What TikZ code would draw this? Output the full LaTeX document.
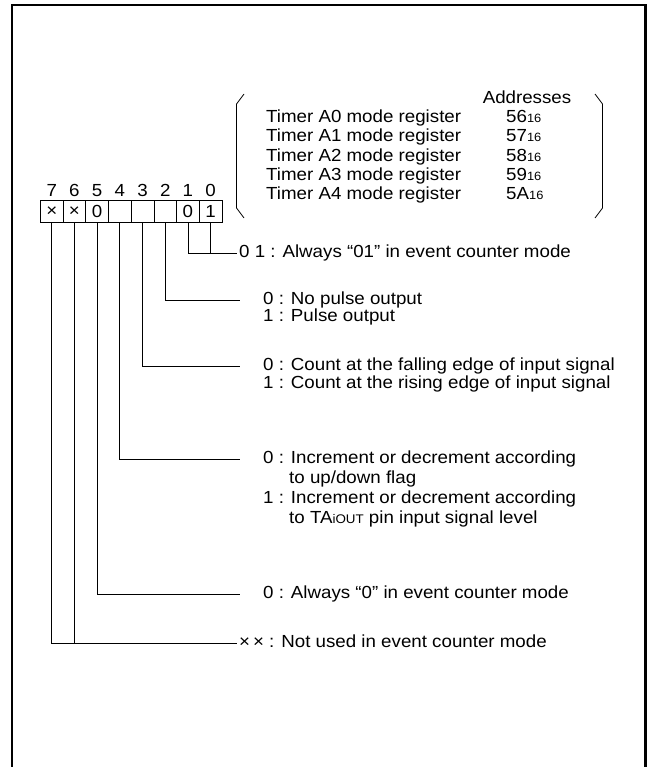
\documentclass[tikz,border=0pt]{standalone}
\usepackage{fontspec}
\setmainfont{Liberation Sans}[FakeStretch=1.07]
\usetikzlibrary{positioning}

\newcommand{\hexsub}[1]{{\fontsize{12}{12}\selectfont #1}}
\newcommand{\smallcap}[1]{{\fontsize{12.5}{12.5}\selectfont #1}}

\begin{document}
\begin{tikzpicture}[x=1pt,y=-1pt,
    every node/.style={font=\fontsize{17.5}{19}\selectfont,inner sep=0pt},
    bitcell/.style={draw,line width=0.8pt,minimum width=22.7pt,minimum height=21.5pt,anchor=north west},
    txt/.style={anchor=west,text height=12.5pt,text depth=3pt},
    lead/.style={line width=0.8pt}]
  \useasboundingbox (0,0) rectangle (650,767);
  % frame, open at the bottom
  \draw[line width=2.4pt] (12.2,790) |- (645.5,4.9) -- (645.5,790);

  % register list with addresses
  \node (addr) at (527,97) {Addresses};
  \foreach \tmr/\adr [count=\k from 0] in {0/56,1/57,2/58,3/59,4/5A}{
    \node[txt] (reg\tmr) at (266,{118+19.2*\k}) {Timer A\tmr\ mode register};
    \node[txt] (adr\tmr) at (506,{118+19.2*\k}) {\adr\hexsub{16}};
  }
  \draw[lead] (244,94) -- (236.5,104) -- (236.5,208) -- (244,218);
  \draw[lead] (595,94) -- (602.5,104) -- (602.5,208) -- (595,218);

  % bit cells
  \foreach \b/\v in {7/×,6/×,5/0,4/,3/,2/,1/0,0/1}{
    \node[bitcell] (b\b) at ({40+(7-\b)*22.7},200) {\v};
    \node[above=3pt of b\b] (n\b) {\b};
  }

  % bit descriptions
  \node[txt] (d10) at (239,253) {0 1 : Always “01” in event counter mode};
  \node[txt] (d2a) at (263,300) {0 : No pulse output};
  \node[txt,below=17pt of d2a.west,anchor=west] (d2b) {1 : Pulse output};
  \node[txt] (d3a) at (263,366) {0 : Count at the falling edge of input signal};
  \node[txt,below=18pt of d3a.west,anchor=west] (d3b) {1 : Count at the rising edge of input signal};
  \node[txt] (d4a) at (263,459) {0 : Increment or decrement according};
  \node[txt,below=20pt of d4a.west,anchor=west] (d4b) {\hphantom{0 :~}to up/down flag};
  \node[txt,below=20pt of d4b.west,anchor=west] (d4c) {1 : Increment or decrement according};
  \node[txt,below=20pt of d4c.west,anchor=west] (d4d) {\hphantom{1 :~}to TA\smallcap{iOUT} pin input signal level};
  \node[txt] (d5) at (263,594) {0 : Always “0” in event counter mode};
  \node[txt] (d76) at (239,643) {×\,× : Not used in event counter mode};

  % leaders
  \draw[lead,shorten >=2.5pt] (b1.south) |- (d10.west);
  \draw[lead] (b0.south) -- (b0.south |- d10.west);
  \draw[lead,shorten >=23pt] (b2.south) |- (d2a.west);
  \draw[lead,shorten >=23pt] (b3.south) |- (d3a.west);
  \draw[lead,shorten >=23pt] (b4.south) |- (d4a.west);
  \draw[lead,shorten >=23pt] (b5.south) |- (d5.west);
  \draw[lead,shorten >=2.5pt] (b7.south) |- (d76.west);
  \draw[lead] (b6.south) -- (b6.south |- d76.west);
\end{tikzpicture}
\end{document}
